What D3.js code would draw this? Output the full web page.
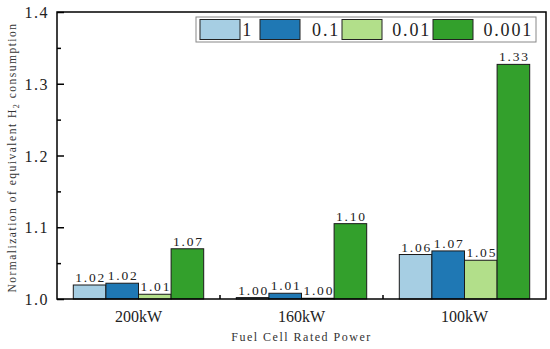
<!DOCTYPE html>
<html><head><meta charset="utf-8">
<script src="https://cdn.jsdelivr.net/npm/d3@7"></script>
<style>body{margin:0;background:#fff}svg{display:block}</style>
</head><body>
<script>
const categories = ["200kW", "160kW", "100kW"];
const seriesNames = ["1", "0.1", "0.01", "0.001"];
const s1 = [1.0195, 1.002, 1.062];
const s01 = [1.022, 1.008, 1.067];
const s001 = [1.0066, 1.001, 1.054];
const s0001 = [1.070, 1.105, 1.327];
const valueLabels = [["1.02","1.00","1.06"],["1.02","1.01","1.07"],["1.01","1.00","1.05"],["1.07","1.10","1.33"]];
const yTicks = [1.0, 1.1, 1.2, 1.3, 1.4];
const yMinor = [1.05, 1.15, 1.25, 1.35];
const colors = ["#a6cee3", "#1f78b4", "#b2df8a", "#33a02c"];
const series = [s1, s01, s001, s0001];

const W = 550, H = 349;
const m = {l: 57, r: 4, t: 12, b: 50};
const svg = d3.select("body").append("svg").attr("width", W).attr("height", H);
const x0 = d3.scaleBand().domain(categories).range([m.l, W - m.r]).paddingInner(0).paddingOuter(0);
const x1 = d3.scaleBand().domain(d3.range(4)).range([0, x0.bandwidth()]).paddingOuter(0.5).paddingInner(0);
const y = d3.scaleLinear().domain([1.0, 1.4]).range([H - m.b, m.t]);
const serif = "'Liberation Serif', 'DejaVu Serif', serif";

// bars
const g = svg.append("g");
series.forEach((vals, si) => {
  g.selectAll(".b" + si).data(vals).enter().append("rect")
    .attr("x", (d, i) => x0(categories[i]) + x1(si))
    .attr("y", d => y(d))
    .attr("width", x1.bandwidth())
    .attr("height", d => y(1.0) - y(d))
    .attr("fill", colors[si]).attr("stroke", "#1a1a1a").attr("stroke-width", 1);
  g.selectAll(".l" + si).data(vals).enter().append("text")
    .attr("x", (d, i) => x0(categories[i]) + x1(si) + x1.bandwidth() / 2 + 1)
    .attr("y", d => y(d) - 3)
    .attr("text-anchor", "middle")
    .attr("font-family", serif).attr("font-size", 13.5).attr("letter-spacing", 1.8)
    .attr("fill", "#222")
    .text((d, i) => valueLabels[si][i]);
});

// y axis with inward ticks
const yAxis = d3.axisRight(y).tickValues(yTicks).tickSize(7).tickFormat("");
svg.append("g").attr("transform", `translate(${m.l},0)`).call(yAxis)
  .call(a => { a.select(".domain").remove(); a.selectAll("line").attr("stroke", "#000").attr("stroke-width", 1.5); });
const yAxisMinor = d3.axisRight(y).tickValues(yMinor).tickSize(4).tickFormat("");
svg.append("g").attr("transform", `translate(${m.l},0)`).call(yAxisMinor)
  .call(a => { a.select(".domain").remove(); a.selectAll("line").attr("stroke", "#000").attr("stroke-width", 1.5); });
svg.append("g").selectAll("text").data(yTicks).enter().append("text")
  .attr("x", m.l - 8).attr("y", d => y(d) + 6)
  .attr("text-anchor", "end")
  .attr("font-family", serif).attr("font-size", 16).attr("letter-spacing", 1.5)
  .attr("fill", "#222").text(d => d3.format(".1f")(d));

// x axis
const bounds = categories.slice(1).map(c => x0(c));
svg.append("g").selectAll("line").data(bounds).enter().append("line")
  .attr("x1", d => d).attr("x2", d => d)
  .attr("y1", y(1.0)).attr("y2", y(1.0) - 4)
  .attr("stroke", "#000").attr("stroke-width", 1.5);
svg.append("g").selectAll("text").data(categories).enter().append("text")
  .attr("x", d => x0(d) + x0.bandwidth() / 2).attr("y", 322)
  .attr("text-anchor", "middle")
  .attr("font-family", serif).attr("font-size", 16)
  .attr("fill", "#222").text(d => d);

// frame
svg.append("rect").attr("x", m.l).attr("y", m.t)
  .attr("width", W - m.r - m.l).attr("height", y(1.0) - m.t)
  .attr("fill", "none").attr("stroke", "#000").attr("stroke-width", 1.5);

// titles
svg.append("text").attr("x", (m.l + W - m.r) / 2).attr("y", 341)
  .attr("text-anchor", "middle").attr("font-family", serif).attr("font-size", 12)
  .attr("letter-spacing", 1.5).attr("fill", "#333").text("Fuel Cell Rated Power");
const yt = svg.append("text")
  .attr("transform", `translate(16,${(m.t + y(1.0)) / 2 + 2}) rotate(-90)`)
  .attr("text-anchor", "middle").attr("font-family", serif).attr("font-size", 11.5)
  .attr("letter-spacing", 1.5).attr("fill", "#333");
yt.append("tspan").text("Normalization of equivalent H");
yt.append("tspan").attr("font-size", 8).attr("dy", 3).text("2");
yt.append("tspan").attr("dy", -3).text(" consumption");

// legend
const leg = svg.append("g");
leg.append("rect").attr("x", 196).attr("y", 17).attr("width", 340).attr("height", 25)
  .attr("fill", "#fff").attr("stroke", "#888").attr("stroke-width", 1);
const swX = [200, 260, 342, 433];
const txtEnd = [253, 340, 431, 533];
seriesNames.forEach((n, i) => {
  leg.append("rect").attr("x", swX[i]).attr("y", 19.5).attr("width", 40).attr("height", 20)
    .attr("fill", colors[i]).attr("stroke", "#222").attr("stroke-width", 1);
  leg.append("text").attr("x", txtEnd[i]).attr("y", 36).attr("text-anchor", "end")
    .attr("font-family", serif).attr("font-size", 18).attr("letter-spacing", 1.8)
    .attr("fill", "#222").text(n);
});
</script>
</body></html>
